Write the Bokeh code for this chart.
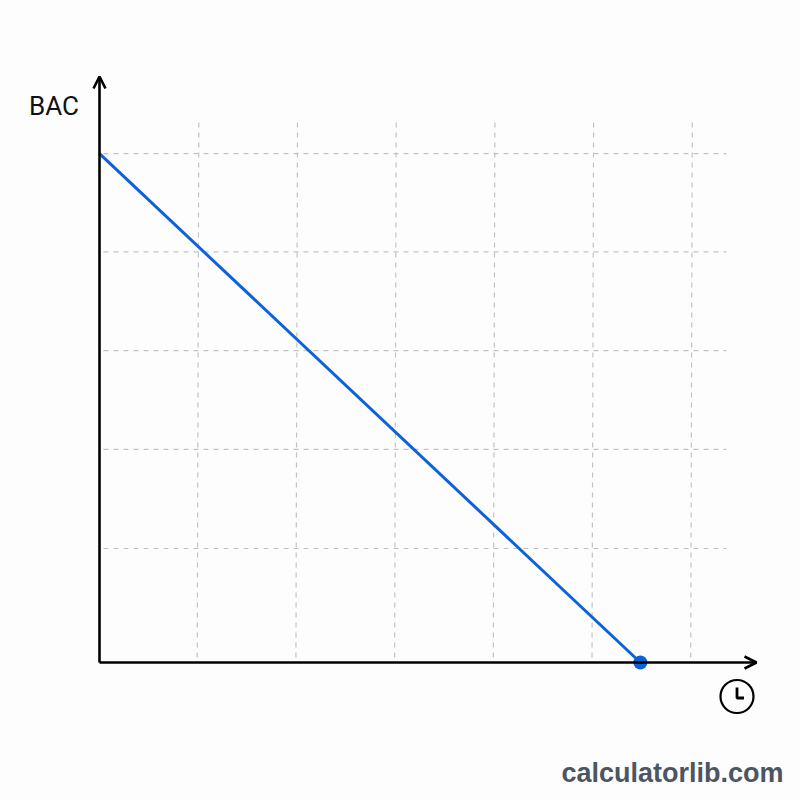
from bokeh.plotting import figure
from bokeh.models import Arrow, OpenHead, Range1d
from bokeh.core.properties import value
from bokeh.embed import file_html
from bokeh.resources import INLINE

# Data (hours on x, grid units of BAC on y)
time_ticks = [1, 2, 3, 4, 5, 6]
bac_ticks = [1.155, 2.16, 3.16, 4.16, 5.155]
line_t = [0.0, 5.48]
line_bac = [5.155, 0.0]
y_label = "BAC"
brand = "calculatorlib.com"

S = 98.7
X0, Y0 = 99.0, 662.0
W = H = 800
px = lambda v: (v - X0) / S
py = lambda v: (Y0 - v) / S

p = figure(width=W, height=H, output_backend="svg", toolbar_location=None,
           x_range=Range1d(px(0), px(W)), y_range=Range1d(py(H), py(0)),
           min_border=0, background_fill_color="#fdfdfd", border_fill_color="#fdfdfd",
           outline_line_color=None)
p.axis.visible = False
p.grid.visible = False

grid_col = "#c2c2c2"
for t in time_ticks:
    p.segment([t + 0.006], [py(122)], [t - 0.01], [py(660)], line_color=grid_col, line_width=1.2, line_dash="5 5")
for b in bac_ticks:
    p.segment([px(103)], [b], [px(726)], [b], line_color=grid_col, line_width=1.2, line_dash="5 5")

p.line(line_t, line_bac, line_color="#0d62d9", line_width=3)
p.scatter([line_t[-1]], [line_bac[-1]], size=14, marker="circle", fill_color="#0d62d9", line_color=None)

# axes with arrowheads
p.add_layout(Arrow(end=OpenHead(size=12, line_color="black", line_width=2.6), x_start=0, y_start=0,
                   x_end=0, y_end=py(76), line_color="black", line_width=2.6))
p.add_layout(Arrow(end=OpenHead(size=12, line_color="black", line_width=2.6), x_start=0, y_start=0,
                   x_end=px(756), y_end=0, line_color="black", line_width=2.6))

p.text([px(53.5)], [py(105)], text=[y_label], text_font=value("Roboto"), text_font_size="26px",
       text_color="#111111", text_align="center", text_baseline="middle")

# clock icon
p.scatter([px(736.5)], [py(696)], size=33, marker="circle", fill_color=None, line_color="black", line_width=2.2)
p.line([px(736.5), px(736.5), px(743.5)], [py(687), py(697.5), py(697.5)], line_color="black", line_width=2.8)

p.text([px(783)], [py(772)], text=[brand], text_font=value("Liberation Sans"), text_font_style="bold",
       text_font_size="27px", text_color="#4b5563", text_align="right", text_baseline="middle")

open("out.html", "w").write(file_html(p, INLINE))
